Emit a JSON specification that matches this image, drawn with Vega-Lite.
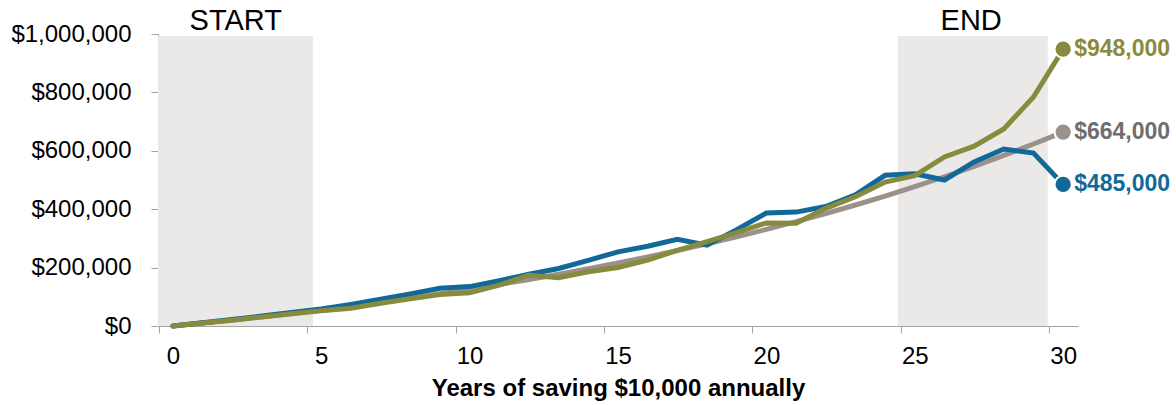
{
  "$schema": "https://vega.github.io/schema/vega-lite/v6.json",
  "width": 920,
  "height": 292,
  "autosize": {"type": "none"},
  "padding": {"left": 158, "top": 34, "right": 98, "bottom": 79},
  "background": "white",
  "config": {
    "view": {"stroke": null},
    "font": "Liberation Sans",
    "axis": {"grid": false, "domainColor": "#A3A3A3", "tickColor": "#A3A3A3", "labelColor": "#000000", "labelFont": "Liberation Sans", "titleFont": "Liberation Sans"}
  },
  "datasets": {
    "series": [
      {"year": 0, "series": "Steady", "value": 0},
      {"year": 1, "series": "Steady", "value": 10000},
      {"year": 2, "series": "Steady", "value": 20500},
      {"year": 3, "series": "Steady", "value": 31525},
      {"year": 4, "series": "Steady", "value": 43101},
      {"year": 5, "series": "Steady", "value": 55256},
      {"year": 6, "series": "Steady", "value": 68019},
      {"year": 7, "series": "Steady", "value": 81420},
      {"year": 8, "series": "Steady", "value": 95491},
      {"year": 9, "series": "Steady", "value": 110266},
      {"year": 10, "series": "Steady", "value": 125779},
      {"year": 11, "series": "Steady", "value": 142068},
      {"year": 12, "series": "Steady", "value": 159171},
      {"year": 13, "series": "Steady", "value": 177130},
      {"year": 14, "series": "Steady", "value": 195986},
      {"year": 15, "series": "Steady", "value": 215786},
      {"year": 16, "series": "Steady", "value": 236575},
      {"year": 17, "series": "Steady", "value": 258404},
      {"year": 18, "series": "Steady", "value": 281324},
      {"year": 19, "series": "Steady", "value": 305390},
      {"year": 20, "series": "Steady", "value": 330660},
      {"year": 21, "series": "Steady", "value": 357193},
      {"year": 22, "series": "Steady", "value": 385052},
      {"year": 23, "series": "Steady", "value": 414305},
      {"year": 24, "series": "Steady", "value": 445020},
      {"year": 25, "series": "Steady", "value": 477271},
      {"year": 26, "series": "Steady", "value": 511135},
      {"year": 27, "series": "Steady", "value": 546691},
      {"year": 28, "series": "Steady", "value": 584026},
      {"year": 29, "series": "Steady", "value": 623227},
      {"year": 30, "series": "Steady", "value": 664000},
      {"year": 0, "series": "Weak finish", "value": 0},
      {"year": 1, "series": "Weak finish", "value": 11000},
      {"year": 2, "series": "Weak finish", "value": 22000},
      {"year": 3, "series": "Weak finish", "value": 34000},
      {"year": 4, "series": "Weak finish", "value": 46000},
      {"year": 5, "series": "Weak finish", "value": 58000},
      {"year": 6, "series": "Weak finish", "value": 74000},
      {"year": 7, "series": "Weak finish", "value": 92000},
      {"year": 8, "series": "Weak finish", "value": 110000},
      {"year": 9, "series": "Weak finish", "value": 129000},
      {"year": 10, "series": "Weak finish", "value": 135000},
      {"year": 11, "series": "Weak finish", "value": 155000},
      {"year": 12, "series": "Weak finish", "value": 177000},
      {"year": 13, "series": "Weak finish", "value": 197000},
      {"year": 14, "series": "Weak finish", "value": 225000},
      {"year": 15, "series": "Weak finish", "value": 254000},
      {"year": 16, "series": "Weak finish", "value": 273000},
      {"year": 17, "series": "Weak finish", "value": 297000},
      {"year": 18, "series": "Weak finish", "value": 277000},
      {"year": 19, "series": "Weak finish", "value": 330000},
      {"year": 20, "series": "Weak finish", "value": 387000},
      {"year": 21, "series": "Weak finish", "value": 390000},
      {"year": 22, "series": "Weak finish", "value": 409000},
      {"year": 23, "series": "Weak finish", "value": 449000},
      {"year": 24, "series": "Weak finish", "value": 516000},
      {"year": 25, "series": "Weak finish", "value": 521000},
      {"year": 26, "series": "Weak finish", "value": 500000},
      {"year": 27, "series": "Weak finish", "value": 562000},
      {"year": 28, "series": "Weak finish", "value": 606000},
      {"year": 29, "series": "Weak finish", "value": 592000},
      {"year": 30, "series": "Weak finish", "value": 485000},
      {"year": 0, "series": "Strong finish", "value": 0},
      {"year": 1, "series": "Strong finish", "value": 10000},
      {"year": 2, "series": "Strong finish", "value": 20000},
      {"year": 3, "series": "Strong finish", "value": 31000},
      {"year": 4, "series": "Strong finish", "value": 42000},
      {"year": 5, "series": "Strong finish", "value": 52000},
      {"year": 6, "series": "Strong finish", "value": 61000},
      {"year": 7, "series": "Strong finish", "value": 78000},
      {"year": 8, "series": "Strong finish", "value": 93000},
      {"year": 9, "series": "Strong finish", "value": 108000},
      {"year": 10, "series": "Strong finish", "value": 114000},
      {"year": 11, "series": "Strong finish", "value": 140000},
      {"year": 12, "series": "Strong finish", "value": 174000},
      {"year": 13, "series": "Strong finish", "value": 165000},
      {"year": 14, "series": "Strong finish", "value": 186000},
      {"year": 15, "series": "Strong finish", "value": 200000},
      {"year": 16, "series": "Strong finish", "value": 226000},
      {"year": 17, "series": "Strong finish", "value": 259000},
      {"year": 18, "series": "Strong finish", "value": 289000},
      {"year": 19, "series": "Strong finish", "value": 320000},
      {"year": 20, "series": "Strong finish", "value": 353000},
      {"year": 21, "series": "Strong finish", "value": 352000},
      {"year": 22, "series": "Strong finish", "value": 403000},
      {"year": 23, "series": "Strong finish", "value": 443000},
      {"year": 24, "series": "Strong finish", "value": 493000},
      {"year": 25, "series": "Strong finish", "value": 515000},
      {"year": 26, "series": "Strong finish", "value": 579000},
      {"year": 27, "series": "Strong finish", "value": 616000},
      {"year": 28, "series": "Strong finish", "value": 675000},
      {"year": 29, "series": "Strong finish", "value": 784000},
      {"year": 30, "series": "Strong finish", "value": 948000}
    ],
    "regions": [
      {"region": "START", "from": -0.5, "to": 4.72, "mid": 2.12},
      {"region": "END", "from": 24.43, "to": 29.48, "mid": 26.9}
    ]
  },
  "layer": [
    {
      "data": {"name": "regions"},
      "mark": {"type": "rect", "color": "#EAE9E7"},
      "encoding": {
        "x": {"field": "from", "type": "quantitative", "scale": {"domain": [-0.5, 30.5], "nice": false, "zero": false},
          "axis": {"values": [0, 5, 10, 15, 20, 25, 30], "tickOffset": -14, "labelOffset": 14, "tickSize": 7, "labelPadding": 11, "labelFontSize": 24, "title": "Years of saving $10,000 annually", "titleFontSize": 24, "titleFontWeight": "bold", "titleColor": "#000000", "titlePadding": 8}},
        "x2": {"field": "to"},
        "y": {"datum": 0, "type": "quantitative", "scale": {"domain": [0, 1000000], "nice": false},
          "axis": {"values": [0, 200000, 400000, 600000, 800000, 1000000], "format": "$,.0f", "tickSize": 7, "labelPadding": 20, "labelFontSize": 24, "title": null}},
        "y2": {"datum": 993000}
      }
    },
    {
      "data": {"name": "regions"},
      "mark": {"type": "text", "fontSize": 29, "color": "#000000", "baseline": "alphabetic", "align": "center", "dy": -4},
      "encoding": {
        "x": {"field": "mid", "type": "quantitative"},
        "y": {"datum": 1000000, "type": "quantitative"},
        "text": {"field": "region"}
      }
    },
    {
      "data": {"name": "series"},
      "transform": [{"filter": "datum.series === 'Steady'"}],
      "mark": {"type": "line", "color": "#9A928A", "strokeWidth": 5, "strokeCap": "round"},
      "encoding": {"x": {"field": "year", "type": "quantitative"}, "y": {"field": "value", "type": "quantitative"}}
    },
    {
      "data": {"name": "series"},
      "transform": [{"filter": "datum.series === 'Weak finish'"}],
      "mark": {"type": "line", "color": "#11699A", "strokeWidth": 5, "strokeCap": "round"},
      "encoding": {"x": {"field": "year", "type": "quantitative"}, "y": {"field": "value", "type": "quantitative"}}
    },
    {
      "data": {"name": "series"},
      "transform": [{"filter": "datum.series === 'Strong finish'"}],
      "mark": {"type": "line", "color": "#878B3D", "strokeWidth": 5, "strokeCap": "round"},
      "encoding": {"x": {"field": "year", "type": "quantitative"}, "y": {"field": "value", "type": "quantitative"}}
    },
    {
      "data": {"name": "series"},
      "transform": [{"filter": "datum.year === 30"}],
      "mark": {"type": "point", "filled": true, "size": 300, "stroke": "white", "strokeWidth": 2, "opacity": 1},
      "encoding": {
        "x": {"field": "year", "type": "quantitative"},
        "y": {"field": "value", "type": "quantitative"},
        "fill": {"field": "series", "type": "nominal", "scale": {"domain": ["Steady", "Weak finish", "Strong finish"], "range": ["#9A928A", "#11699A", "#878B3D"]}, "legend": null}
      }
    },
    {
      "data": {"name": "series"},
      "transform": [{"filter": "datum.year === 30"}],
      "mark": {"type": "text", "align": "left", "baseline": "middle", "dx": 11, "fontSize": 23, "fontWeight": "bold"},
      "encoding": {
        "x": {"field": "year", "type": "quantitative"},
        "y": {"field": "value", "type": "quantitative"},
        "text": {"field": "value", "type": "quantitative", "format": "$,.0f"},
        "color": {"field": "series", "type": "nominal", "scale": {"domain": ["Steady", "Weak finish", "Strong finish"], "range": ["#6E6E6E", "#11699A", "#878B3D"]}, "legend": null}
      }
    }
  ]
}
